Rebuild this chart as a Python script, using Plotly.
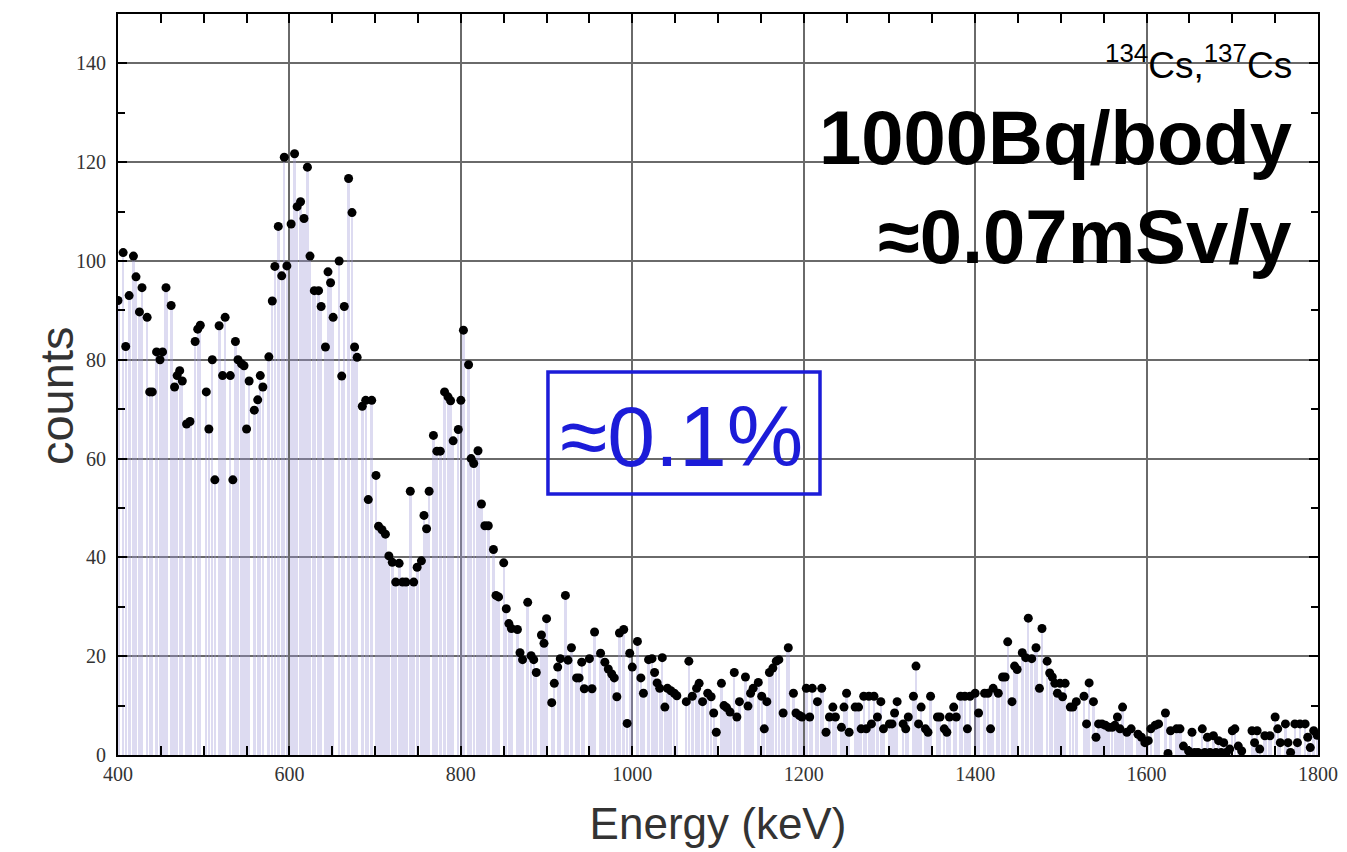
import numpy as np
import plotly.graph_objects as go

energy_kev = [
    400, 406, 409, 413, 418, 421, 425, 428, 434, 437, 440, 445, 449, 452, 456, 462, 466, 469, 472, 475,
    480, 484, 490, 493, 496, 503, 506, 510, 513, 518, 522, 525, 531, 534, 537, 540, 544, 547, 550, 553,
    559, 563, 566, 569, 576, 580, 583, 587, 591, 594, 597, 602, 606, 609, 613, 617, 621, 624, 629, 634,
    637, 642, 645, 648, 651, 658, 661, 664, 669, 673, 676, 679, 685, 689, 692, 696, 701, 704, 708, 712,
    716, 720, 724, 728, 732, 736, 741, 745, 749, 754, 757, 760, 763, 768, 772, 776, 781, 785, 788, 791,
    797, 800, 803, 809, 812, 815, 820, 824, 828, 832, 838, 841, 844, 850, 853, 856, 859, 866, 869, 872,
    878, 882, 885, 888, 894, 897, 900, 906, 909, 913, 916, 922, 925, 929, 935, 938, 941, 944, 950, 953,
    956, 963, 968, 972, 976, 979, 982, 985, 990, 994, 997, 1000, 1006, 1010, 1013, 1019, 1023, 1026, 1029, 1032,
    1035, 1038, 1041, 1045, 1049, 1052, 1063, 1066, 1070, 1075, 1078, 1082, 1088, 1092, 1095, 1098, 1104, 1107, 1110, 1114,
    1119, 1122, 1125, 1132, 1135, 1138, 1141, 1147, 1151, 1154, 1157, 1160, 1164, 1168, 1171, 1176, 1182, 1188, 1191, 1195,
    1198, 1203, 1207, 1210, 1216, 1221, 1226, 1230, 1234, 1237, 1244, 1247, 1250, 1253, 1260, 1264, 1267, 1270, 1273, 1276,
    1279, 1282, 1286, 1290, 1293, 1300, 1303, 1306, 1309, 1316, 1319, 1322, 1328, 1331, 1334, 1337, 1342, 1345, 1348, 1356,
    1359, 1364, 1367, 1370, 1375, 1378, 1383, 1388, 1391, 1394, 1400, 1404, 1411, 1415, 1418, 1421, 1427, 1432, 1435, 1438,
    1443, 1446, 1449, 1455, 1459, 1462, 1466, 1471, 1475, 1478, 1484, 1487, 1490, 1493, 1496, 1499, 1502, 1505, 1511, 1514,
    1518, 1527, 1530, 1533, 1538, 1541, 1544, 1548, 1552, 1556, 1560, 1563, 1566, 1569, 1572, 1577, 1582, 1590, 1594, 1598,
    1602, 1605, 1610, 1614, 1622, 1625, 1628, 1635, 1639, 1643, 1649, 1653, 1656, 1660, 1665, 1668, 1671, 1674, 1678, 1681,
    1684, 1687, 1690, 1693, 1697, 1700, 1703, 1707, 1711, 1723, 1726, 1729, 1732, 1738, 1744, 1750, 1753, 1756, 1762, 1765,
    1768, 1773, 1776, 1779, 1785, 1788, 1791, 1795, 1799,
]
counts = [
    92, 101.7, 82.7, 93, 101, 96.8, 89.7, 94.6, 88.6, 73.5, 73.5, 81.6, 80, 81.6, 94.6, 91, 74.5, 76.8, 77.8, 75.7,
    67, 67.5, 83.7, 86.2, 87, 73.5, 66, 80, 55.7, 86.9, 76.8, 88.6, 76.8, 55.7, 83.7, 80, 79.2, 78.8, 66, 75.7,
    69.8, 71.9, 76.8, 74.5, 80.6, 91.9, 98.9, 107, 97, 121, 99, 107.5, 121.7, 111, 112, 108.6, 119, 101, 94, 94,
    90.8, 82.6, 97.8, 95.6, 88.6, 100, 76.7, 90.8, 116.7, 109.8, 82.6, 80.5, 70.6, 71.8, 51.7, 71.8, 56.6, 46.3, 45.6, 44.7,
    40.3, 39, 35, 38.8, 35, 35, 53.4, 35, 38, 39.3, 48.5, 45.8, 53.4, 64.7, 61.5, 61.5, 73.5, 72.5, 71.7, 63.6,
    65.9, 71.8, 86, 79, 60, 59, 61.6, 50.8, 46.4, 46.4, 41.6, 32.3, 32, 38.9, 29.6, 26.6, 25.6, 25.4, 20.7, 19.3,
    30.9, 20.1, 19.3, 16.7, 24.3, 22.6, 27.6, 10.6, 14.5, 17.8, 19.5, 32.3, 19.2, 21.7, 15.6, 15.6, 18.8, 13.4, 19.5, 13.4,
    24.9, 20.6, 18.8, 17.4, 16.4, 15.6, 11.8, 24.7, 25.4, 6.4, 20.6, 17.8, 23, 15.6, 12.5, 19.3, 19.5, 16.7, 14.6, 13.5,
    19.7, 9.7, 13.5, 13, 12.5, 12, 10.8, 19, 11.9, 13.5, 14.5, 10.8, 12.5, 11.8, 8.5, 4.6, 14.5, 10, 9.6, 8.7,
    16.7, 7.7, 10.8, 15.8, 9.9, 12.5, 13.5, 14.7, 11.9, 5.3, 10.8, 16.7, 17.6, 19, 19.3, 8.5, 21.7, 12.5, 8.5, 8,
    7.7, 13.5, 7.7, 13.5, 10.8, 13.5, 4.6, 7.7, 9.7, 7.7, 5.6, 9.7, 12.5, 4.6, 9.7, 9.7, 5.3, 11.9, 5.3, 11.9,
    6.3, 11.9, 7.7, 10.8, 5.3, 6.3, 6.3, 8.5, 10.8, 6.3, 5.3, 7.7, 11.9, 18, 6.3, 9.7, 5.3, 4.6, 11.9, 7.7,
    7.7, 5.3, 4.6, 7.7, 9.7, 7.7, 11.9, 11.9, 5.3, 11.9, 12.5, 8.5, 12.5, 12.5, 5.3, 13.5, 12.5, 15.8, 15.8, 22.9,
    10.8, 18, 17.3, 20.7, 19.7, 27.7, 19.5, 21.7, 13.5, 25.6, 19, 16.6, 15.8, 14.5, 12.5, 14.5, 11.8, 14.5, 9.7, 9.7,
    10.8, 11.9, 6.3, 14.6, 10.8, 3.6, 6.3, 6.3, 6, 5.6, 5.6, 6, 7.7, 5.3, 9.7, 4.6, 5.3, 4.2, 3.6, 2.5,
    2.9, 5.3, 6, 6.3, 8.5, 0.3, 4.9, 5.3, 5.3, 1.8, 0.8, 4.6, 0.5, 0.5, 5.3, 0.5, 3.6, 0.5, 3.9, 0.5,
    2.9, 0.5, 2.5, 0.5, 1.2, 4.9, 5.3, 1.8, 0.8, 4.9, 2.5, 4.9, 1.2, 3.9, 3.9, 7.7, 5.3, 2.5, 6.3, 2.5,
    0.5, 6.3, 2.5, 6.3, 6.3, 3.6, 1.5, 4.9, 4,
]

x_ticks = [400, 600, 800, 1000, 1200, 1400, 1600, 1800]
y_ticks = [0, 20, 40, 60, 80, 100, 120, 140]

# bar widths follow the channel spacing, leaving a thin gap between channels
xs = np.array(energy_kev, dtype=float)
gaps = np.diff(xs)
half_left = np.concatenate([[gaps[0]], gaps]) / 2
half_right = np.concatenate([gaps, [gaps[-1]]]) / 2
bar_w = np.minimum(np.minimum(half_left, half_right) * 2, 5.5) - 0.35

fig = go.Figure()
fig.add_trace(go.Bar(
    x=energy_kev, y=counts, width=bar_w,
    marker=dict(color="rgba(160,155,215,0.36)", line=dict(width=0)),
    hoverinfo="skip", showlegend=False,
))
fig.add_trace(go.Scatter(
    x=energy_kev, y=counts, mode="markers",
    marker=dict(color="black", size=9),
    showlegend=False,
))

axis_common = dict(
    showline=True, linecolor="black", linewidth=2, mirror="ticks",
    ticks="inside", ticklen=9, tickcolor="black", tickwidth=1.5,
    showgrid=True, gridcolor="#6a6a6a", gridwidth=1.5,
    zeroline=False, automargin=False,
    tickfont=dict(family="Liberation Serif, Times New Roman, serif", size=20, color="#333333"),
)

fig.update_xaxes(
    range=[400, 1800], tickvals=x_ticks,
    minor=dict(dtick=50, tick0=400, ticks="inside", ticklen=9, tickcolor="black", showgrid=False),
    title=dict(text="Energy (keV)", standoff=24,
               font=dict(family="Liberation Sans, Arial, sans-serif", size=44, color="#333333")),
    **axis_common,
)
fig.update_yaxes(
    range=[0, 150], tickvals=y_ticks, ticklabelstandoff=6,
    minor=dict(dtick=10, tick0=0, ticks="inside", ticklen=7, tickcolor="black", showgrid=False),
    **axis_common,
)

label_font = "Liberation Sans, Arial, sans-serif"
# y-axis title
fig.add_annotation(
    xref="paper", yref="paper", x=-0.0508, y=0.4845, xanchor="center", yanchor="middle",
    text="counts", textangle=-90, showarrow=False,
    font=dict(family=label_font, size=47, color="#333333"),
)
fig.add_annotation(
    xref="paper", yref="paper", x=0.9796, y=0.935, xanchor="right", yanchor="middle",
    text="<sup>134</sup>Cs,<sup>137</sup>Cs", showarrow=False,
    font=dict(family=label_font, size=37, color="black"),
)
fig.add_annotation(
    xref="paper", yref="paper", x=0.9796, y=0.834, xanchor="right", yanchor="middle",
    text="<b>1000Bq/body</b>", showarrow=False,
    font=dict(family=label_font, size=76, color="black"),
)
fig.add_annotation(
    xref="paper", yref="paper", x=0.9796, y=0.700, xanchor="right", yanchor="middle",
    text="<b>≈0.07mSv/y</b>", showarrow=False,
    font=dict(family=label_font, size=76, color="black"),
)
# boxed note
fig.add_shape(
    type="rect", xref="paper", yref="paper",
    x0=0.3583, x1=0.585, y0=0.3522, y1=0.5169,
    line=dict(color="#1c1cd8", width=3.5), fillcolor="rgba(0,0,0,0)", layer="above",
)
fig.add_annotation(
    xref="paper", yref="paper", x=0.4695, y=0.43, xanchor="center", yanchor="middle",
    text="≈0.1%", showarrow=False,
    font=dict(family=label_font, size=86, color="#1c1cd8"),
)

# the page body adds an 8 px offset, so margins are shifted to compensate
fig.update_layout(
    width=1347, height=852,
    margin=dict(l=110, r=37, t=6, b=105),
    paper_bgcolor="white", plot_bgcolor="white",
    bargap=0,
)

fig.write_html("out.html")
